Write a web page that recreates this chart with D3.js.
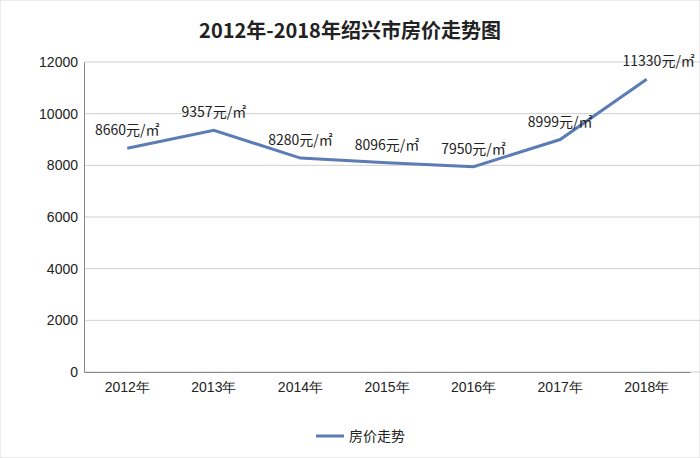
<!DOCTYPE html>
<html><head><meta charset="utf-8">
<script src="https://cdn.jsdelivr.net/npm/d3@7"></script>
<style>body{margin:0;background:#fff}svg{font-family:"Noto Sans CJK SC","Liberation Sans",sans-serif}</style>
</head><body><svg id="c" width="700" height="458"></svg>
<script>
const years=["2012年","2013年","2014年","2015年","2016年","2017年","2018年"];
const prices=[8660,9357,8280,8096,7950,8999,11330];
const yTicks=[0,2000,4000,6000,8000,10000,12000];
const seriesName="房价走势";
const svg=d3.select("#c");
const x=d3.scaleBand().domain(years).range([84,690]);
const y=d3.scaleLinear().domain([0,12000]).range([372,62]);
svg.append("rect").attr("width",700).attr("height",458).attr("fill","#fff").attr("stroke","#d9d9d9");
svg.append("text").attr("x",350).attr("y",38).attr("text-anchor","middle").attr("font-size",20).attr("font-weight","bold").attr("fill","#222").text("2012年-2018年绍兴市房价走势图");
svg.append("g").selectAll("line").data(yTicks).join("line").attr("x1",84).attr("x2",700).attr("y1",d=>y(d)).attr("y2",d=>y(d)).attr("stroke","#d0d0d0");
const ya=svg.append("g").attr("transform","translate(84,0)").call(d3.axisLeft(y).tickValues(yTicks).tickFormat(d3.format("d")).tickSize(0).tickPadding(6));
ya.select(".domain").attr("stroke","#888");
ya.selectAll("text").attr("font-size",14).attr("fill","#222");
const xa=svg.append("g").attr("transform","translate(0,372)").call(d3.axisBottom(x).tickSize(0).tickPadding(10));
xa.select(".domain").attr("stroke","#888");
xa.selectAll("text").attr("font-size",14).attr("fill","#222");
const cx=d=>x(d)+x.bandwidth()/2;
svg.append("path").datum(prices).attr("fill","none").attr("stroke","#5b7cb4").attr("stroke-width",3)
 .attr("d",d3.line().x((d,i)=>cx(years[i])).y(d=>y(d)));
svg.append("g").selectAll("text").data(prices).join("text").attr("x",(d,i)=>cx(years[i])+ (i==6?12:0)).attr("y",d=>y(d)-13)
 .attr("text-anchor","middle").attr("font-size",14).attr("fill","#222").text(d=>d+"元/㎡");
svg.append("line").attr("x1",316).attr("x2",344).attr("y1",436).attr("y2",436).attr("stroke","#5b7cb4").attr("stroke-width",3);
svg.append("text").attr("x",349).attr("y",441).attr("font-size",14).attr("fill","#222").text(seriesName);
</script></body></html>
